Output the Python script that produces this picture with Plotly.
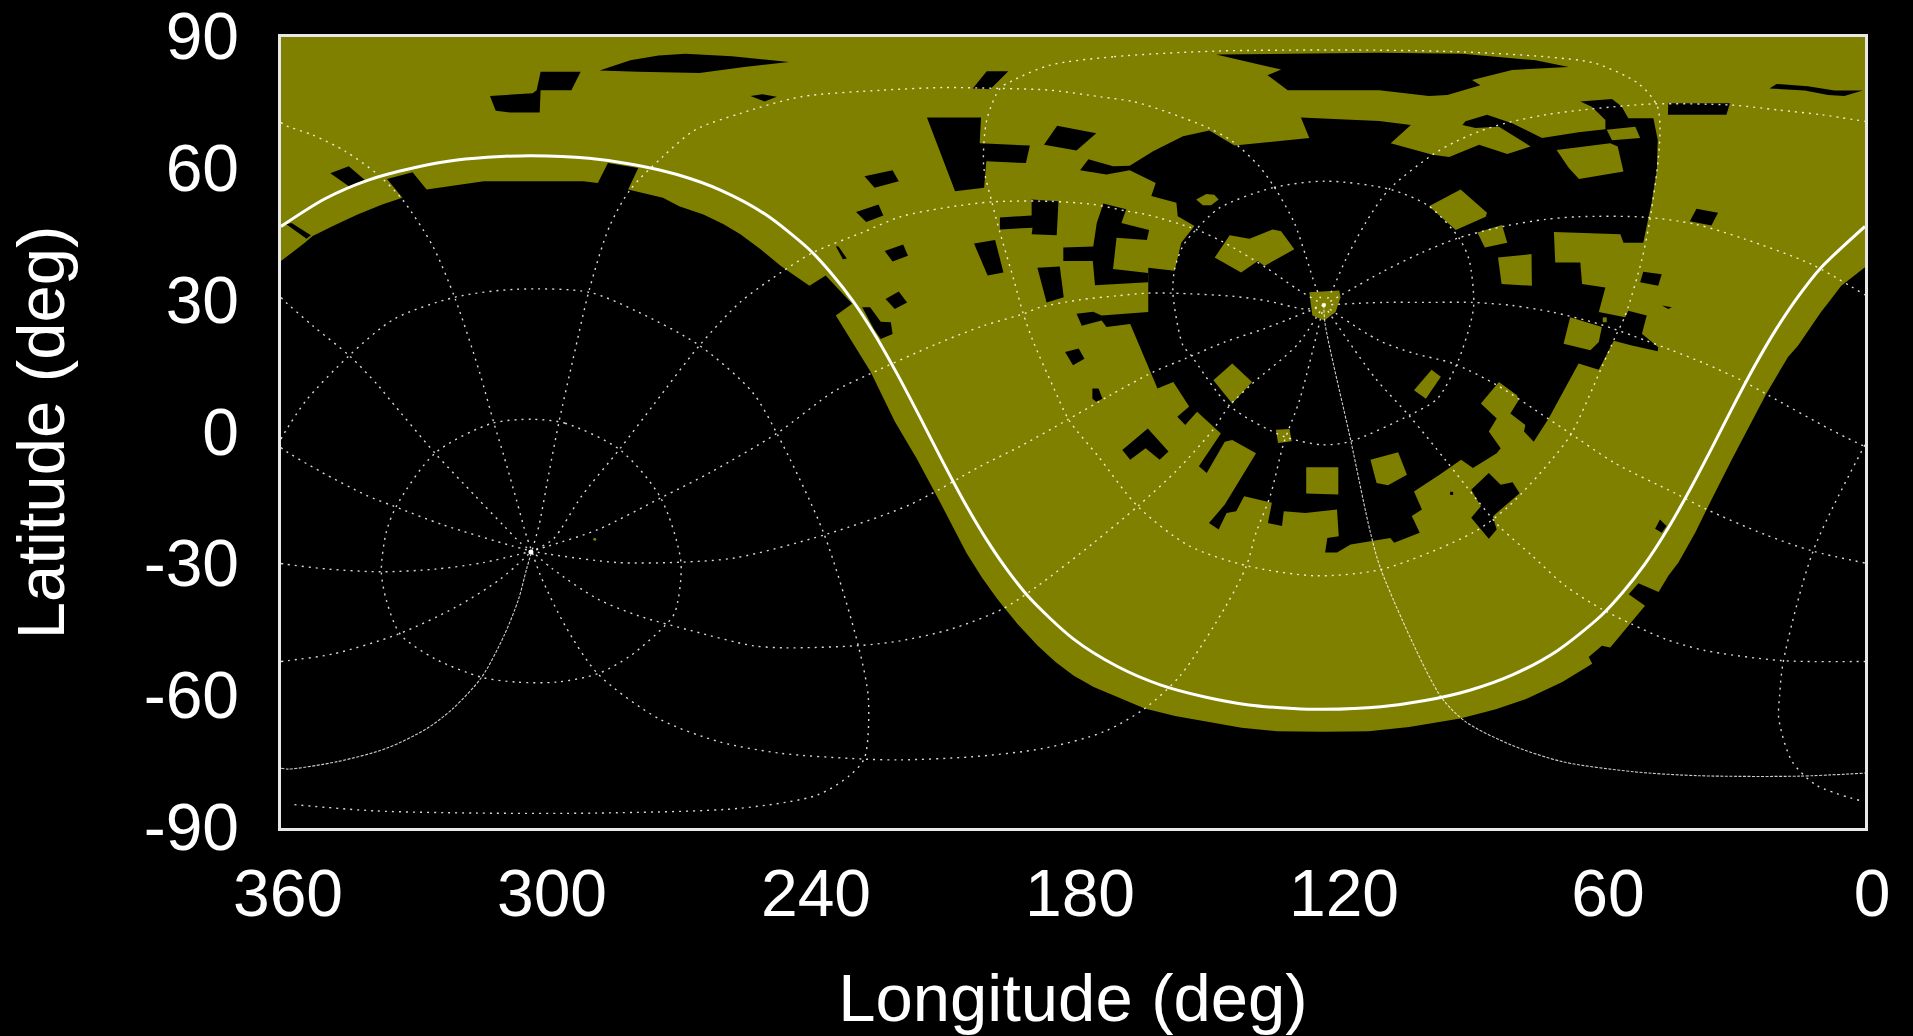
import plotly.graph_objects as go

OLIVE = "#808000"
x_ticks = [360, 300, 240, 180, 120, 60, 0]
y_ticks = [90, 60, 30, 0, -30, -60, -90]

# Observed region: lon/lat outline
coverage = [(360,90),(0,90),(0,37.6),(5.4,33.4),(8,30),(10,27.4),(15.2,19.8),(17.5,17.2),(22.4,8.9),(26.6,0.9),(30.3,-6.2),(34.9,-15.3),(38.6,-22.8),(42.4,-29.6),(44.7,-32.6),
 (46.9,-36.3),(51.5,-34.3),(53.7,-36.8),(50,-39.4),(57.9,-48.9),(59.8,-48.5),(62.8,-51.1),(62,-52.6),(68.8,-56.8),(72.3,-58.5),(76.9,-60.6),(83.9,-63),(92,-65.1),(103.6,-67),
 (112.8,-68),(123.2,-68.1),(133.6,-68),(141.7,-67.2),(149.8,-65.8),(156.8,-64.5),(163.7,-62.8),(170.6,-59.8),(175.3,-57.9),(179.9,-55.3),(183.9,-52.3),(188,-48.5),(192.6,-43.6),(197.2,-37.9),(200.7,-33),(204.2,-27.4),(207.7,-20.6),(210.5,-15.3),(215.5,-6),
 (220.5,2.5),(226,13.8),(229.8,20),(233.9,26.6),(230.2,29.3),(236.2,35.7),(239.9,33.4),(246.4,37.9),(251,41.7),(255.6,45.1),(259.4,47.4),(264,49.6),(269.5,51.5),(273.2,53.4),(281.1,55.3),
 (278.8,60.2),(285.7,61.3),(288,56.8),(291.3,57.2),(313.9,57.2),(326.9,55.3),(330.1,59.2),(335.9,57.7),(332.4,53.4),(337,51.9),(342.6,49.6),
 (348.2,47),(352.8,44.7),(354.6,43.2),(360,39)]

# Central gap
gap_main = [(110.4,70.9),(103.2,70),(107.8,65.8),(98.3,63.2),(94.5,62.7),(87.7,65.5),(81.3,63.4),(76,65.1),(83.2,69.6),(88.5,69.3),(91.5,70),(90.8,70.8),
 (85.9,72.3),(80.2,70.4),(73.4,67),(65.1,68.3),(59,69),(59,71.1),(62.1,74.1),(64.7,75.3),(57.5,75.9),(55.3,74.2),(53.8,71.5),(48.1,71.5),(47.1,66.6),
 (47.3,59.8),(48.5,52.3),(49.6,47),(50.4,43.2),(54.9,43.2),(55.6,45.1),(70.7,45.6),(70.4,38.7),(64.7,38.7),(64.3,33.8),(59,33),(60.5,27.4),(54.5,26.2),
 (53.8,27.7),(49.6,26.6),(50.7,22.5),(47,19.4),(47.1,18.5),(53,19.8),(57.1,20.9),(60.5,14.3),(65.1,15.7),(71.9,3.2),(75.3,-2.1),(77.5,0.2),(77.2,1.7),
 (80.6,4.3),(78.7,7.4),(79.1,8.5),(83.2,11.5),(87.3,6.6),(83.7,3.2),(85.5,0.2),(82.8,-3.6),(83.7,-4.7),(89.1,-8.1),(91.8,-6.2),(96.7,-9.6),(102.5,-13.4),
 (100.7,-17.5),(103,-19),(101.2,-22.8),(107,-25.1),(107.9,-24),(116.9,-25.5),(120,-27.3),(122.7,-27.3),(122.2,-24),(119.6,-23.6),(120,-17.5),(127.2,-18.3),
 (132.1,-17.9),(132.5,-21.3),(135.7,-20.6),(134.8,-16),(141.1,-14.5),(142.9,-17.9),(145.1,-18.3),(146.9,-22.1),(149.1,-20.6),(145.5,-16.4),(138.4,-4.7),
 (143.8,-1.7),(145.5,-2.1),(149.6,-9.2),(151.4,-7.7),(146.4,-0.2),(151.8,4.7),(154.5,1.7),(156.3,3.6),(153.6,5.9),(157.2,11.5),(160.8,10),(167,24.7),
 (172.4,24),(173.5,25.5),(178,24.3),(179.2,27),(175.4,27.5),(173.5,26.6),(162.9,27.4),(162.9,37.5),(156.9,36.8),(155.4,43.2),(152.4,47),(156.2,49.2),
 (156.5,52.3),(162.2,53.8),(161.2,56.8),(167.1,59.7),(172.4,58.7),(178.4,59.7),(176.5,62.2),(170.9,60.6),(167.1,60.7),(161.8,64),(155,67.4),(149,68.7),
 (143.3,65.3),(126.3,67),(128.2,71.7)]

gap_north = [(147.5,86),(132.7,82.6),(135.8,81.3),(131.2,77.9),(110.4,77.9),(99.1,76.6),(94.9,76.8),(87.4,79),(89.3,80.2),(80.2,82.5),(67.3,83.2),(74.9,84.7),(91.5,86.2),(110.4,86.4)]
gap_n2 = [(202.8,78.3),(199.6,82.2),(194.7,82.2),(198.8,78.1)]
gap_n3 = [(213.2,71.7),(200.9,71.7),(201.2,65.8),(189.8,65.3),(190.7,61.3),(199.7,61.7),(200.2,55.7),(206.8,54.9)]
gap_n4 = [(183.6,69.8),(174.7,68.1),(179.2,64.2),(186.6,65.5)]
gap_n5 = [(189.4,53),(183.3,52.6),(183.7,44.9),(189.4,45.1),(189.2,46.6),(196.6,46.2),(196.6,48.9),(189.4,49.4)]
gap_n6 = [(173.1,52.1),(167.9,50.8),(169,47.7),(162.7,46.1),(163.2,43.8),(170.1,44.3),(170.9,37.2),(162.9,36.3),(162.9,34.2),(175,33.5),(175.5,39),(182.2,39),(182.2,42.1),(175.4,42.3),(174.6,47.7)]
gap_n7 = [(202.5,43),(197.7,43.8),(195.8,36.4),(199.4,35.7)]
gap_n8 = [(188.1,37.5),(183,37.8),(182.1,30.8),(186,29.6)]
gap_a = [(227.4,58.3),(221,59.7),(219.6,57.2),(225.1,55.7)]
gap_b = [(229.3,50.2),(224.2,51.9),(223.1,49.4),(227,47.9)]
gap_c = [(222.8,41.3),(218.6,42.8),(217.5,40.2),(221,38.9)]
gap_d = [(222.6,30.4),(219.6,32.1),(217.7,29.6),(220.5,28.1)]
gap_e = [(233.9,42.4),(233.3,42.3),(231.4,39.6),(232.3,39.4)]
gap_f = [(227.9,28.5),(226.1,28.5),(223.7,25.2),(221.4,25.1),(221,22.4),(223.7,21.3),(225.3,23.6)]
gap_g = [(312.5,76.6),(302.8,77.2),(301.9,77.9),(301,82.1),(291.9,82.1),(294,77.9),(301,77.9),(301.2,72.8),(307.9,72.8),(311.2,73.2)]
gap_h = [(287.6,82.4),(280.6,84.7),(274.2,85.8),(268.1,86.2),(257.5,85.6),(244.5,84.3),(254.7,83.2),(264.9,81.8),(278.8,82.1)]
gap_i = [(253.3,76.6),(250.6,77),(247.3,76.4),(250.1,75.3)]
gap_j = [(348.8,59),(344.6,60.6),(341,57.5),(344.5,56)]
gap_k = [(358.8,47.4),(357.6,47.7),(353.2,44.9),(354.2,44.1)]
gap_l = [(44.7,74.9),(30.7,74.9),(31.5,72.3),(44.8,72.3)]
gap_m = [(21.7,78.3),(20.1,79.3),(13,78.8),(6.9,77.8),(0.5,77.8),(4.7,76.6),(8.4,76.8),(13.7,77.8)]
gap_o = [(38.3,50.9),(33.4,50),(34.9,47.1),(39.8,48.1)]
gap_p = [(50.4,36.6),(46.2,36),(47,33.4),(51.1,34.2)]
gap_q = [(46.2,28.9),(43.9,28.5),(44.7,28.1)]
gap_r = [(46.6,-19.8),(45.1,-21.3),(46.2,-22.8),(47.7,-21.9)]
gap_s = [(181.8,18.3),(178.7,19.1),(177.4,16.8),(180,15.3)]
gap_t = [(175.6,10),(174.2,10),(173.3,7.7),(174.7,7),(175.6,7.7)]
gap_u = [(168.8,-4),(165.7,-1.3),(163,0.9),(158.3,-4.3),(160.3,-6.2),(163.5,-3.6),(167,-6.2)]
gap_v = [(89.5,-13),(85.5,-9.2),(82.8,-11.9),(80.1,-11.3),(78.5,-13.8),(84.6,-19.1),(83.7,-22.1),(85.5,-24.2),(89.5,-19.4),(87.3,-16.8)]
gap_w = [(94.3,-13.5),(93.6,-13.5),(93.6,-14.2),(94.3,-14.2)]
gaps = [gap_main,gap_north,gap_n2,gap_n3,gap_n4,gap_n5,gap_n6,gap_n7,gap_n8,gap_a,gap_b,gap_c,gap_d,gap_e,gap_f,gap_g,gap_h,gap_i,gap_j,gap_k,
        gap_l,gap_m,gap_o,gap_p,gap_q,gap_r,gap_s,gap_t,gap_u,gap_v,gap_w]

isle_1 = [(126.3,31.9),(119.5,32.3),(119.2,30.8),(120.3,27.4),(122.9,25.5),(125.6,26.6)]
isle_2 = [(144.4,44.9),(139.9,44.1),(134.6,46.2),(132.7,45.8),(129.7,41.7),(136.5,37.9),(138,39),(141.8,36.4),(147.8,39.8)]
isle_3 = [(152,53),(149.7,54.3),(147.9,54.1),(146.9,53),(148.6,51.7),(150.5,51.7)]
isle_4 = [(99.1,51.5),(91.9,55.3),(85.9,50),(86.2,49.1),(93,46.1)]
isle_5 = [(88.1,45.5),(82.5,47.2),(81.3,43.2),(86.4,42.1)]
isle_6 = [(83.4,39.8),(75.8,40.6),(75.7,33.4),(82.6,33.8)]
isle_7 = [(70.1,64.3),(57.9,65.8),(56.2,65.1),(54.9,59.4),(65,57.7),(67.3,60.2)]
isle_8 = [(58.7,68.9),(52.2,69.6),(51.1,67),(57.5,66.5)]
isle_9 = [(143.8,15.7),(139.3,11.5),(143.8,6.6),(148.1,11.9)]
isle_10 = [(133.9,0.6),(130.8,0.8),(130.3,-2),(133.4,-2.4)]
isle_11 = [(127,-7.9),(119.7,-7.9),(119.7,-14.1),(127,-13.9)]
isle_12 = [(112.4,-6.2),(106.1,-4.5),(104.1,-9.6),(108.4,-12),(111,-11.5)]
isle_13 = [(98.5,14.3),(96.4,12.7),(99.8,7.7),(102.5,9.6)]
isle_14 = [(67,26.2),(59.8,24),(60.5,20.6),(62.4,18.7),(68.5,20.2)]
isle_15 = [(59.6,26.2),(58.7,26.2),(58.7,25.1),(59.6,25.1)]
isles = [isle_1,isle_2,isle_3,isle_4,isle_5,isle_6,isle_7,isle_8,isle_9,isle_10,isle_11,isle_12,isle_13,isle_14,isle_15]

# Pole-to-pole meridians (dotted)
mer_1a = [(123,29),(121,32.6),(118,39.4),(113.5,47.7),(108.2,55.3),(98.3,63.2),(93,66.2),(87.7,68.5),(81.7,70.4),(72.6,72.3),(64.3,73.4),(54.9,74.3),(47.7,74.8),(30.3,74.5),(19.8,73.4),(9.9,72.3),(0,70.8)]
mer_1b = [(360,70.6),(359.3,70),(352.8,67.7),(345.4,64),(338,58.7),(332.4,53),(325.5,42.4),(320.4,30.4),(314.9,13.8),(311.6,2.1),(309.3,-5.5),(306.5,-15.3),(304.2,-23.6),(303,-27)]
mer_2 = [(123,29),(124.8,33),(127.1,40.2),(129.7,47.7),(133.9,55.3),(137.7,60.6),(143.7,66.2),(149,69.2),(158.8,73),(166.3,75.3),(173.9,76.4),(185.2,77.9),(196.6,78.3),(209.4,78.5),(223.3,77.9),(241.8,76.4),(255.6,72.6),(265.8,68.9),(273.2,62.8),(280.6,55.3),(285.3,47),(289.9,32.6),(293.6,16.8),(296.8,2.5),(299.1,-9.2),(301.4,-21.3),(303,-27)]
mer_3 = [(123,29),(129,32.6),(136.1,37.5),(145.6,43.2),(152,46.2),(163.3,49.6),(167.9,50.4),(175.4,51.9),(185.2,52.6),(198.1,52.5),(209.4,51.1),(219.2,49.1),(227.9,45.5),(239,41),(246.4,36.4),(255.7,29.6),(264.9,19.8),(275.1,6.6),(282.9,-3.6),(291.7,-14.5),(298.2,-24.3),(303,-27)]
mer_4 = [(123,29),(127.1,28.1),(136.1,30),(143.7,31),(157.3,31.7),(163.3,31.7),(170.1,31.1),(178.4,30.2),(187.5,28.5),(191.3,27),(200.3,24.3),(210.9,20.2),(226,13.4),(234.4,9.3),(247.3,-0.2),(262.1,-8.9),(273.7,-14.9),(288,-22.1),(299.1,-25.8),(303,-27)]
mer_5 = [(123,29),(136.6,23.6),(145.5,20.6),(154.5,16.8),(161.7,13.8),(171.5,8.5),(181.4,2.8),(192.1,-3.2),(201.1,-7.7),(217,-16.4),(236.2,-23.2),(256.6,-28.5),(268.8,-29.5),(283.4,-29.6),(299.1,-27.7),(303,-27)]
mer_6 = [(123,29),(129,20),(139.3,11.1),(144.6,5.9),(148.2,0.6),(156.3,-8.5),(165.3,-16.8),(175.3,-25.1),(188,-34.9),(196.1,-40.2),(207.6,-44.7),(219.2,-47.4),(228.8,-48.5),(245.5,-49),(252.9,-48.5),(266.7,-45.1),(278.8,-41.7),(288,-37.9),(298.2,-31.1),(303,-27)]
mer_7 = [(123,29),(128.5,7.4),(132.1,-2.4),(135.2,-14.5),(138.4,-22.8),(140.6,-30.4),(145.2,-39.4),(155.6,-55.3),(163.7,-62.8),(173,-68.1),(186.8,-71.9),(203,-73.8),(219.2,-74.5),(227.9,-74.3),(246.4,-73),(260.3,-70.4),(274.2,-65.1),(288,-54.9),(295.4,-44),(301,-32.6),(303,-27)]
mer_8a = [(123,29),(122.7,24.7),(116.9,-1.7),(112.4,-22.8),(109.9,-31.5),(96.6,-59.8),(90.8,-65.8),(80.4,-71.1),(68.8,-74.9),(52.6,-77.2),(37.8,-78.1),(15,-78.2),(0,-77.5)]
mer_8b = [(360,-76.4),(358.3,-76.6),(347.2,-74.9),(336.1,-71.9),(326.9,-67.4),(320.9,-62.8),(314.4,-55.7),(309.3,-46.2),(306,-37.9),(304.2,-31.1),(303,-27)]
mer_9a = [(123,29),(111.5,12.6),(103.4,3.6),(95.4,-6.2),(88.2,-15.3),(83.2,-21.3),(75.6,-28.1),(68.1,-34.9),(59.8,-40.2),(53,-43.6),(45.4,-47),(36.4,-49.6),(19,-51.9),(0,-52.1)]
mer_9b = [(360,-52.1),(358.3,-51.9),(348.2,-50.4),(333.4,-45.9),(320.4,-39.8),(310.2,-33.4),(303,-27)]
mer_10a = [(123,29),(110.6,21),(102.5,18),(93.6,15.7),(83.7,10.8),(72.1,3.2),(67,-0.2),(56.8,-7),(43.2,-13.8),(36,-17.5),(22.8,-23.2),(11.8,-27),(0,-29.7)]
mer_10b = [(360,-29.8),(358.8,-30),(349.1,-31.1),(337.1,-31.7),(325,-31.1),(314,-29.6),(303,-27)]
mer_11a = [(123,29),(109.6,36.6),(100.6,41),(92.3,44.3),(81.7,47),(72.6,48.5),(65.1,49.1),(50,49),(38.6,47.4),(27.3,44),(12.2,38.3),(0,31.3)]
mer_11b = [(360,30.7),(359.3,30),(352.8,24.3),(344.5,17.5),(338,10.8),(335.2,7.4),(325,-4.7),(315.8,-14.5),(309.3,-21.3),(305.6,-25.1),(303,-27)]
mer_12a = [(123,29),(109.6,29.6),(99.8,29.6),(89.3,29.6),(80.2,28.9),(71.1,27.4),(60.5,24.7),(50,21),(43.9,18.7),(36.4,15.7),(28.1,11.9),(22,8.5),(7.7,0.6),(0,-3.2)]
mer_12b = [(360,-3.4),(359.3,-4),(351,-8.9),(340.8,-14.2),(334.3,-16.8),(323.2,-21),(307.5,-25.8),(303,-27)]
meridians = [mer_1a,mer_1b,mer_2,mer_3,mer_4,mer_5,mer_6,mer_7,mer_9a,mer_9b,mer_10a,mer_10b,mer_11a,mer_11b,mer_12a,mer_12b]

# Parallels
par_a_60 = [(122.5,57.2),(134.6,55.7),(146.7,51.1),(152,46.2),(155,42.5),(156.9,37.2),(157.3,31.9),(156.2,24.3),(155,19.8),(153.2,17.6),(144.6,6.2),(132.1,-0.9),(123.1,-2.8),(116.9,-2),(103.4,4),(97.2,7.7),(92.7,15.7),(89.5,25.5),(88.9,29.6),(90,39.4),(92.3,44.3),(99.1,51.5),(107.8,55.3),(122.5,57.2)]
par_a_30 = [(147.5,86.8),(170.9,85.5),(185.2,83.6),(193.5,80.2),(196.6,78.3),(199.6,71.1),(200.3,60.6),(198.4,52.3),(196.6,45.5),(193.5,34.9),(191.3,27),(189,20.6),(184.5,10.4),(180.9,2.8),(174.2,-5.5),(165.3,-16.8),(153.6,-25.8),(140.2,-30.4),(124.9,-32.6),(109.7,-31.1),(89.1,-22.8),(81,-16.8),(71.2,-6.2),(66.7,-0.2),(59.8,14.9),(56.8,21.7),(54.5,26.6),(50.7,39.4),(48.8,48.9),(47,62.1),(46.6,69.6),(47.3,74.5),(51.5,79.4),(61.3,84),(72.6,85.5),(91.5,86.6),(110.4,87),(147.5,86.8)]
par_b_60 = [(302.8,3),(295.4,2.1),(282.9,-4),(273.7,-14.9),(269.1,-29.6),(270.5,-41),(272.8,-44),(280.6,-50.8),(288,-54.9),(297.3,-56.8),(306.5,-56.8),(314.4,-55.7),(325,-51.5),(332.9,-45.9),(336.1,-38),(337.2,-31.5),(336.1,-22.8),(333.8,-16.8),(325,-4.7),(312,2.1),(302.8,3)]
par_b_30l = [(360,-1.5),(358.8,0.6),(354.2,7.4),(344.5,17.5),(334.3,25.8),(320.4,30.8),(306.5,32.6),(289.9,31.9),(278.8,27.4),(264.9,19.8),(252.9,9.2),(247.3,-0.2),(236.7,-22.8),(228.8,-48.5),(226.5,-60.6),(227.4,-74.1),(230.7,-78),(238.1,-82.5),(255.6,-85.5),(288,-86.6),(315.8,-86.6),(338.9,-86.1),(357.9,-84.6)]
par_b_30r = [(0,-2.8),(11.8,-27),(18.6,-52.3),(19.4,-59.8),(19.6,-65.1),(16.6,-74.8),(11,-80.3),(0.6,-83.9)]
parallels = [par_a_60,par_a_30,par_b_60,par_b_30l,par_b_30r]

equator = [(360,46.9),(350,53.2),(340,57.5),(330,60.2),(320,62),(310,62.8),(303,63),(290,62.4),(280,61),(270,58.7),(260,55.1),(250,49.7),(240,41.7),(235,36.3),
 (230,29.9),(225,22.2),(220,13.4),(215,3.9),(210,-5.9),(205,-15.3),(200,-23.8),(195,-31.2),(190,-37.5),(180,-46.9),(170,-53.2),(160,-57.5),(150,-60.2),(140,-62),
 (130,-62.8),(123,-63),(110,-62.4),(100,-61),(90,-58.7),(80,-55.1),(70,-49.7),(60,-41.7),(55,-36.3),(50,-29.9),(45,-22.2),(40,-13.4),(35,-3.9),(30,5.9),(25,15.3),
 (20,23.8),(15,31.2),(10,37.5),(0,46.9)]

pole_dot = [(303.2,-27.2)]
stray_dot = [(288.7,-24.3)]


def xs(pts):
    return [p[0] for p in pts]


def ys(pts):
    return [p[1] for p in pts]


fig = go.Figure()


def poly(pts, color):
    fig.add_trace(go.Scatter(x=xs(pts), y=ys(pts), mode="lines", fill="toself", fillcolor=color,
                             line=dict(width=0, color=color), hoverinfo="skip", showlegend=False))


poly(coverage, OLIVE)
for g in gaps:
    poly(g, "#000000")
for i in isles:
    poly(i, OLIVE)

DOT = dict(color="rgba(255,255,255,0.85)", width=1.4, dash="2px,5px", shape="spline", smoothing=0.8)
for c in meridians + parallels:
    fig.add_trace(go.Scatter(x=xs(c), y=ys(c), mode="lines", line=DOT, hoverinfo="skip", showlegend=False))
SOLIDISH = dict(color="rgba(255,255,255,0.8)", width=1.1, dash="3px,1.5px", shape="spline", smoothing=0.8)
fig.add_trace(go.Scatter(x=xs(mer_8a), y=ys(mer_8a), mode="lines", hoverinfo="skip", showlegend=False, line=SOLIDISH))
fig.add_trace(go.Scatter(x=xs(mer_8b), y=ys(mer_8b), mode="lines", hoverinfo="skip", showlegend=False, line=SOLIDISH))
fig.add_trace(go.Scatter(x=xs(equator), y=ys(equator), mode="lines", hoverinfo="skip", showlegend=False,
                         line=dict(color="#ffffff", width=3, shape="spline", smoothing=0.8)))
fig.add_trace(go.Scatter(x=xs(pole_dot), y=ys(pole_dot), mode="markers", hoverinfo="skip", showlegend=False,
                         marker=dict(color="#ffffff", size=5)))
fig.add_trace(go.Scatter(x=xs(stray_dot), y=ys(stray_dot), mode="markers", hoverinfo="skip", showlegend=False,
                         marker=dict(color=OLIVE, size=3)))

FONT = "Liberation Sans"
axis_common = dict(showgrid=False, zeroline=False, showline=True, linecolor="#e8e8e8", linewidth=2.5, mirror=True, automargin=False,
                   ticks="outside", tickcolor="#000000", color="#ffffff", ticklabeloverflow="allow",
                   tickfont=dict(family=FONT, size=66, color="#ffffff"))
fig.update_layout(
    width=1913, height=1036, paper_bgcolor="#000000", plot_bgcolor="#000000", showlegend=False,
    margin=dict(l=281, r=48, t=37, b=208, autoexpand=False), font=dict(family=FONT, color="#ffffff"),
    xaxis=dict(range=[360, 0], tickvals=x_ticks, ticktext=[str(v) for v in x_ticks], ticklen=6, ticklabelshift=-7,
               title=dict(text="Longitude (deg)", font=dict(family=FONT, size=67, color="#ffffff"), standoff=46), **axis_common),
    yaxis=dict(range=[-90, 90], tickvals=y_ticks, ticktext=[str(v) for v in y_ticks], ticklen=26, ticklabelshift=-1,
               title=dict(text="Latitude (deg)", font=dict(family=FONT, size=67, color="#ffffff"), standoff=58), **axis_common),
)
fig.write_html("out.html", config={"displayModeBar": False},
               post_script="document.body.style.margin='0';document.body.style.background='#000';")
